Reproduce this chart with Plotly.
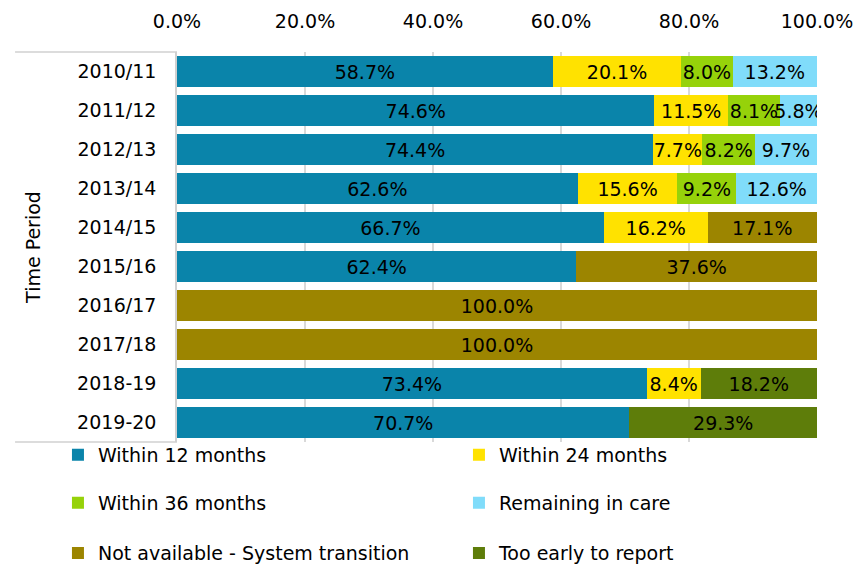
import plotly.graph_objects as go

periods = ["2010/11", "2011/12", "2012/13", "2013/14", "2014/15", "2015/16",
           "2016/17", "2017/18", "2018-19", "2019-20"]

within_12 = [58.7, 74.6, 74.4, 62.6, 66.7, 62.4, None, None, 73.4, 70.7]
within_24 = [20.1, 11.5, 7.7, 15.6, 16.2, None, None, None, 8.4, None]
within_36 = [8.0, 8.1, 8.2, 9.2, None, None, None, None, None, None]
remaining = [13.2, 5.8, 9.7, 12.6, None, None, None, None, None, None]
not_available = [None, None, None, None, 17.1, 37.6, 100.0, 100.0, None, None]
too_early = [None, None, None, None, None, None, None, None, 18.2, 29.3]

x_ticks = [0, 20, 40, 60, 80, 100]
x_tick_labels = ["0.0%", "20.0%", "40.0%", "60.0%", "80.0%", "100.0%"]

series = [
    ("Within 12 months", within_12, "#0A84AA", "legend"),
    ("Within 24 months", within_24, "#FFE200", "legend"),
    ("Within 36 months", within_36, "#96D20A", "legend2"),
    ("Remaining in care", remaining, "#80DCFA", "legend2"),
    ("Not available - System transition", not_available, "#9C8500", "legend3"),
    ("Too early to report", too_early, "#5E7D0A", "legend3"),
]

FONT = "DejaVu Sans"
FS = 19
fig = go.Figure()
for name, vals, color, lg in series:
    fig.add_trace(go.Bar(
        y=periods, x=vals, name=name, orientation="h",
        marker=dict(color=color, line=dict(width=0)),
        texttemplate="%{x:.1f}%", textposition="inside",
        insidetextanchor="middle", constraintext="none",
        textfont=dict(color="#000000", size=FS, family=FONT),
        legend=lg, hoverinfo="skip",
    ))

legend_common = dict(orientation="h", entrywidth=356, entrywidthmode="pixels",
                     font=dict(size=FS, family=FONT, color="#000000"),
                     xanchor="left", yanchor="middle", x=-0.186,
                     bgcolor="rgba(0,0,0,0)", borderwidth=0,
                     traceorder="normal")

fig.update_layout(
    width=863, height=564,
    margin=dict(l=169, r=54, t=44, b=130, autoexpand=False),
    barmode="stack", bargap=0.2,
    paper_bgcolor="white", plot_bgcolor="white",
    font=dict(family=FONT, size=FS, color="#000000"),
    uniformtext=dict(minsize=FS, mode="show"),
    xaxis=dict(side="top", range=[0, 100], tickvals=x_ticks,
               ticktext=x_tick_labels,
               showgrid=True, gridcolor="#D9D9D9", gridwidth=1.5,
               zeroline=False, showline=False,
               ticks="outside", ticklen=15, tickcolor="rgba(0,0,0,0)",
               tickfont=dict(size=FS, family=FONT, color="#000000"),
               fixedrange=True),
    yaxis=dict(categoryorder="array", categoryarray=periods,
               autorange="reversed", showgrid=False, zeroline=False,
               showline=True, linecolor="#D0D0D0", linewidth=1.5,
               ticks="outside", ticklen=15, tickcolor="rgba(0,0,0,0)",
               tickfont=dict(size=FS, family=FONT, color="#000000"),
               title=dict(text="Time Period", standoff=31,
                          font=dict(size=FS, family=FONT, color="#000000")),
               fixedrange=True),
    legend=dict(**legend_common, y=-0.033),
    legend2=dict(**legend_common, y=-0.156),
    legend3=dict(**legend_common, y=-0.285),
    shapes=[
        dict(type="line", xref="paper", yref="paper", x0=-0.253, x1=0, y0=1.0, y1=1.0,
             line=dict(color="#D0D0D0", width=1.5)),
        dict(type="line", xref="paper", yref="paper", x0=-0.253, x1=0, y0=0.0, y1=0.0,
             line=dict(color="#D0D0D0", width=1.5)),
    ],
)

fig.write_html("out.html")
